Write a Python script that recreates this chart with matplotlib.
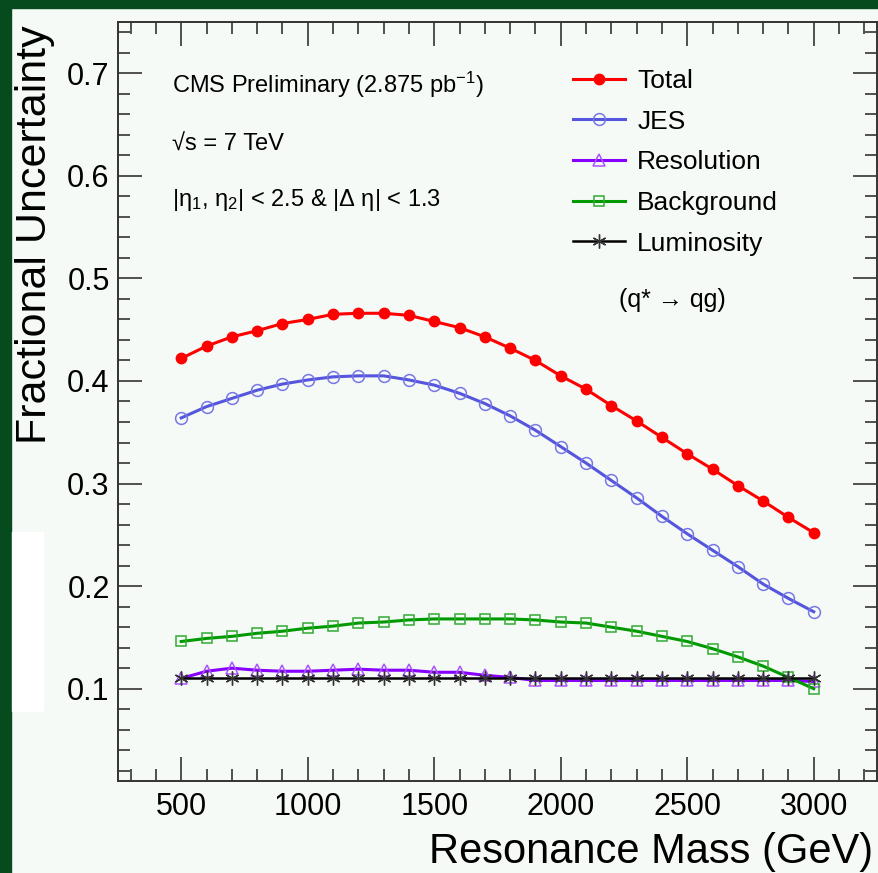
import matplotlib
matplotlib.use("Agg")
import matplotlib.pyplot as plt
from matplotlib.ticker import MultipleLocator
from matplotlib.patches import Rectangle

plt.rcParams['font.family'] = ['Liberation Sans', 'DejaVu Sans']
plt.rcParams['mathtext.fontset'] = 'custom'
plt.rcParams['mathtext.rm'] = 'Liberation Sans'
plt.rcParams['mathtext.it'] = 'Liberation Sans:italic'

mass = [500, 600, 700, 800, 900, 1000, 1100, 1200, 1300, 1400, 1500, 1600, 1700,
        1800, 1900, 2000, 2100, 2200, 2300, 2400, 2500, 2600, 2700, 2800, 2900, 3000]

total = [0.422, 0.434, 0.443, 0.449, 0.456, 0.460, 0.465, 0.466, 0.466, 0.464, 0.458, 0.452, 0.443,
         0.432, 0.420, 0.405, 0.392, 0.376, 0.361, 0.345, 0.329, 0.314, 0.298, 0.283, 0.267, 0.252]
jes = [0.364, 0.375, 0.383, 0.391, 0.397, 0.401, 0.404, 0.405, 0.405, 0.401, 0.396, 0.388, 0.378,
       0.366, 0.352, 0.336, 0.320, 0.303, 0.286, 0.268, 0.251, 0.235, 0.219, 0.202, 0.188, 0.175]
resolution = [0.110, 0.117, 0.120, 0.118, 0.117, 0.117, 0.118, 0.119, 0.118, 0.118, 0.116, 0.116, 0.113,
              0.111, 0.108, 0.108, 0.108, 0.108, 0.108, 0.108, 0.108, 0.108, 0.108, 0.108, 0.108, 0.107]
background = [0.146, 0.149, 0.151, 0.154, 0.156, 0.159, 0.161, 0.164, 0.165, 0.167, 0.168, 0.168, 0.168,
              0.168, 0.167, 0.165, 0.164, 0.160, 0.156, 0.151, 0.146, 0.139, 0.131, 0.122, 0.111, 0.100]
luminosity = [0.11] * len(mass)

bg = '#f5faf6'
fig = plt.figure(figsize=(8.79, 8.73), dpi=100, facecolor=bg)
ax = fig.add_axes([0.1342, 0.1054, 0.8635, 0.8694], facecolor=bg)

# page border and the blank patch on the left
fig.patches.append(Rectangle((0, 0), 11 / 879, 1, transform=fig.transFigure, color='#054b1d', zorder=0))
fig.patches.append(Rectangle((0, 1 - 8 / 873), 1, 8 / 873, transform=fig.transFigure, color='#054b1d', zorder=0))
fig.patches.append(Rectangle((12 / 879, 1 - 711 / 873), 31 / 879, 179 / 873, transform=fig.transFigure,
                             color='white', zorder=0))

ax.plot(mass, total, color='#ff0000', lw=2.2, marker='o', ms=7.5, mfc='#ff0000', mec='#ff0000', label='Total')
ax.plot(mass, jes, color='#5555dd', lw=2.2, marker='o', ms=8.5, mfc='none', mec='#7777e6', mew=1.1, label='JES')
ax.plot(mass, resolution, color='#8800ff', lw=2.2, marker='^', ms=8, mfc='none', mec='#aa55ff', mew=1.1,
        label='Resolution')
ax.plot(mass, background, color='#009900', lw=2.2, marker='s', ms=7.5, mfc='none', mec='#33aa33', mew=1.1,
        label='Background')
ax.plot(mass, luminosity, color='black', lw=1.8, marker=(6, 2, 0), ms=10, mec='#333333', mew=1.0,
        label='Luminosity')

ax.set_xlim(250, 3250)
ax.set_ylim(0.01, 0.75)
ax.xaxis.set_major_locator(MultipleLocator(500))
ax.xaxis.set_minor_locator(MultipleLocator(100))
ax.yaxis.set_major_locator(MultipleLocator(0.1))
ax.yaxis.set_minor_locator(MultipleLocator(0.02))
ax.yaxis.set_major_formatter(matplotlib.ticker.FormatStrFormatter('%.1f'))
ax.tick_params(which='both', direction='in', top=True, right=True, labelsize=22, color='#222222')
ax.tick_params(axis='y', which='major', length=17, width=1.1, pad=6)
ax.tick_params(axis='y', which='minor', length=8.5, width=1.1)
ax.tick_params(axis='x', which='major', length=17, width=1.1, pad=8)
ax.tick_params(axis='x', which='minor', length=8.5, width=1.1)
for s in ax.spines.values():
    s.set_linewidth(1.4)
    s.set_color('#333333')

fig.text(0.040, 0.971, 'Fractional Uncertainty', rotation=90, ha='center', va='top', fontsize=31)
fig.text(0.993, 0.011, 'Resonance Mass (GeV)', ha='right', va='baseline', fontsize=30)

ax.text(0.071, 0.907, 'CMS Preliminary (2.875 pb$^{-1}$)', transform=ax.transAxes, fontsize=17)
ax.text(0.071, 0.831, '\u221as = 7 TeV', transform=ax.transAxes, fontsize=17)
ax.text(0.071, 0.758, '|\u03b7$_1$, \u03b7$_2$| < 2.5 & |\u0394 \u03b7| < 1.3', transform=ax.transAxes, fontsize=17)
ax.text(0.73, 0.634, '(q* \u2192 qg)', transform=ax.transAxes, fontsize=18, ha='center', va='center')

ax.legend(loc='upper left', bbox_to_anchor=(0.60, 0.938), frameon=False, fontsize=19,
          handlelength=1.97, handletextpad=0.45, labelspacing=0.63, borderaxespad=0, borderpad=0)

fig.savefig('out.png', dpi=100, facecolor=bg)
